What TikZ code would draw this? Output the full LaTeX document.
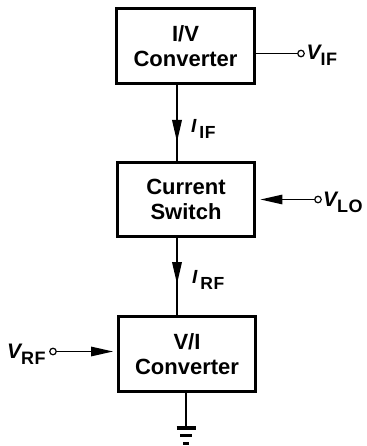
\documentclass[tikz,border=0pt]{standalone}
\usepackage{fontspec}
\setmainfont{Liberation Sans}
\newfontfamily\subfnt[LetterSpace=3]{Liberation Sans}
\usetikzlibrary{arrows.meta}
\newcommand\sigV[2]{{\fontsize{21}{21}\selectfont\bfseries\itshape #1}\raisebox{-6pt}{\fontsize{18}{18}\subfnt\bfseries #2}}
\newcommand\sigI[2]{{\fontsize{19}{19}\selectfont\bfseries\itshape #1\hspace{3pt}}\raisebox{-6pt}{\fontsize{17.5}{17.5}\subfnt\bfseries #2}}
\tikzset{
  blockbox/.style={draw, line width=3.4pt, minimum width=137.5pt, minimum height=74.5pt,
    align=center, inner sep=0pt, font=\fontsize{22}{25}\selectfont\bfseries},
  wire/.style={line width=1.9pt},
  thinwire/.style={line width=1.4pt},
  pin/.style={circle, draw, line width=1.2pt, fill=white, inner sep=0pt, minimum size=6.5pt},
  tri/.style={-{Triangle[length=22pt,width=9.5pt]}},
  lab/.style={anchor=base west, inner sep=0pt}
}
\begin{document}
\begin{tikzpicture}[x=1pt,y=-1pt]
\useasboundingbox (0,0) rectangle (366,446);
% blocks
\node[blockbox] (b1) at (185.5,46) {I/V\\Converter};
\node[blockbox] (b2) at (186,199.5) {Current\\Switch};
\node[blockbox] (b3) at (187,354) {V/I\\Converter};
% pins
\node[pin] (cIF) at (301,53.5) {};
\node[pin] (cLO) at (318,199.5) {};
\node[pin] (cRF) at (53,351.5) {};
% labels
\node[lab] (lIF) at (306.5,60) {\sigV{V}{IF}};
\node[lab] (lLO) at (323,206.5) {\sigV{V}{LO}};
\node[lab] (lRF) at (7,358.5) {\sigV{V}{RF}};
\node[lab] (iIF) at (191,133) {\sigI{I}{IF}};
\node[lab] (iRF) at (192,283) {\sigI{I}{RF}};
% arrow tip points
\coordinate (a1) at (177,142);
\coordinate (a2) at (177,284);
% vertical current paths
\draw[wire] (b1.south -| a1) -- (b2.north -| a1);
\draw[wire, tri] (b1.south -| a1) -- (a1);
\draw[wire] (b2.south -| a2) -- (b3.north -| a2);
\draw[wire, tri] (b2.south -| a2) -- (a2);
% inputs / outputs
\draw[thinwire] (b1.east |- cIF) -- (cIF);
\draw[thinwire, tri, shorten >=4pt] (cLO) -- (b2.east |- cLO);
\draw[thinwire, tri, shorten >=3.5pt] (cRF) -- (b3.west |- cRF);
% ground
\coordinate (g) at (186,428);
\draw[wire] (b3.south -| g) -- (g);
\draw[line width=3.5pt] ([xshift=-9.5pt]g) -- ([xshift=9.5pt]g);
\draw[line width=3pt] ([shift={(-6,7.5)}]g) -- ([shift={(6,7.5)}]g);
\draw[line width=3pt] ([shift={(-3,15)}]g) -- ([shift={(3,15)}]g);
\end{tikzpicture}
\end{document}
